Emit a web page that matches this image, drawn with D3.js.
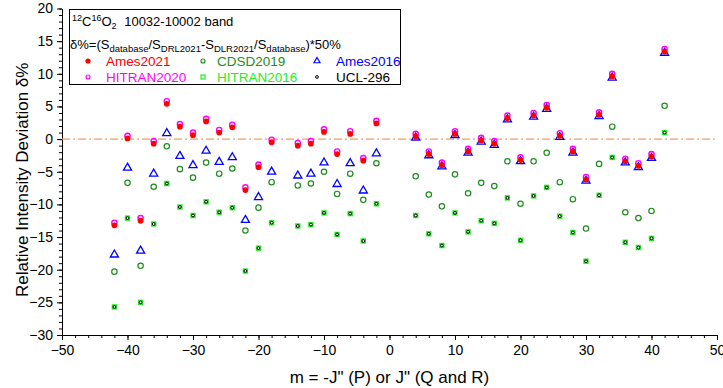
<!DOCTYPE html>
<html>
<head>
<meta charset="utf-8">
<script src="https://cdn.jsdelivr.net/npm/d3@7"></script>
<style>
  body { margin: 0; background: #fff; }
  svg, svg text { font-family: "Liberation Sans", Arial, sans-serif; }
</style>
</head>
<body>
<div id="chart"></div>
<script>
// m = -J" (P) or J" (Q and R)
const mValues = [-42, -40, -38, -36, -34, -32, -30, -28, -26, -24, -22, -20, -18, -14, -12, -10, -8, -6, -4, -2,
  4, 6, 8, 10, 12, 14, 16, 18, 20, 22, 24, 26, 28, 30, 32, 34, 36, 38, 40, 42];

const ames2021 = [-13.2, 0.1, -12.5, -0.7, 5.4, 1.9, 0.6, 2.7, 1.0, 1.8, -7.8, -4.3, -0.5, -1.0, -0.7, 1.1, -2.3, 0.8, -3.3, 2.4,
  0.4, -2.3, -4.0, 0.8, -1.9, -0.2, -0.7, 3.2, -3.2, 3.6, 4.8, 0.5, -1.9, -6.2, 3.7, 9.6, -3.4, -4.1, -2.7, 13.4];
const hitran2020 = [-12.8, 0.5, -12.1, -0.3, 5.8, 2.3, 1.0, 3.1, 1.4, 2.2, -7.4, -3.9, -0.1, -0.6, -0.3, 1.5, -1.9, 1.2, -2.9, 2.8,
  0.8, -1.9, -3.6, 1.2, -1.5, 0.2, -0.3, 3.6, -2.8, 4.0, 5.2, 0.9, -1.5, -5.8, 4.1, 10.0, -3.0, -3.7, -2.3, 13.8];
const ames2016 = [-17.7, -4.4, -17.1, -5.3, 0.9, -2.6, -4.0, -1.8, -3.5, -2.8, -12.4, -8.9, -5.0, -5.6, -5.3, -3.6, -6.9, -3.7, -7.9, -2.2,
  0.2, -2.5, -4.2, 0.6, -2.1, -0.4, -0.9, 3.0, -3.4, 3.4, 4.6, 0.3, -2.1, -6.4, 3.5, 9.4, -3.6, -4.3, -2.9, 13.2];
const cdsd2019 = [-20.3, -6.7, -19.4, -7.3, -1.1, -4.6, -5.9, -3.6, -5.3, -4.5, -14.0, -10.5, -6.6, -7.1, -6.8, -5.0, -8.4, -5.3, -9.3, -3.7,
  -5.7, -8.5, -10.3, -5.4, -8.3, -6.7, -7.2, -3.4, -9.9, -3.4, -2.1, -6.6, -9.2, -13.7, -3.8, 1.9, -11.2, -12.1, -11.0, 5.1];
const hitran2016 = [-25.7, -12.1, -25.0, -13.0, -6.8, -10.4, -11.7, -9.6, -11.2, -10.5, -20.2, -16.7, -12.8, -13.3, -13.1, -11.3, -14.6, -11.4, -15.6, -9.9,
  -11.7, -14.5, -16.3, -11.3, -14.2, -12.5, -12.9, -9.0, -15.5, -8.7, -7.4, -11.8, -14.3, -18.7, -8.6, -2.8, -15.8, -16.6, -15.2, 1.0];
const ucl296 = [-25.7, -12.1, -25.0, -13.0, -6.8, -10.4, -11.7, -9.6, -11.2, -10.5, -20.2, -16.7, -12.8, -13.3, -13.1, -11.3, -14.6, -11.4, -15.6, -9.9,
  -11.7, -14.5, -16.3, -11.3, -14.2, -12.5, -12.9, -9.0, -15.5, -8.7, -7.4, -11.8, -14.3, -18.7, -8.6, -2.8, -15.8, -16.6, -15.2, 1.0];

const xTicks = [-50, -40, -30, -20, -10, 0, 10, 20, 30, 40, 50];
const yTicks = [-30, -25, -20, -15, -10, -5, 0, 5, 10, 15, 20];

const width = 723;
const height = 388;
const font = '"Liberation Sans", Arial, sans-serif';

const svg = d3.select('#chart')
  .append('svg')
  .attr('width', width)
  .attr('height', height)
  .style('font-family', font);

const x = d3.scaleLinear().domain([-50, 50]).range([62, 717]);
const y = d3.scaleLinear().domain([-30, 20]).range([335, 8.5]);

// minor ticks
svg.append('g')
  .attr('transform', `translate(0,${y(-30)})`)
  .call(d3.axisBottom(x).tickValues(d3.range(-50, 51, 2)).tickSize(3).tickFormat(''))
  .call(g => g.select('.domain').remove());
svg.append('g')
  .attr('transform', `translate(${x(-50)},0)`)
  .call(d3.axisLeft(y).tickValues(d3.range(-30, 21, 1)).tickSize(3).tickFormat(''))
  .call(g => g.select('.domain').remove());

// major axes
svg.append('g')
  .attr('transform', `translate(0,${y(-30)})`)
  .call(d3.axisBottom(x).tickValues(xTicks).tickSize(5).tickSizeOuter(0).tickPadding(5));
svg.append('g')
  .attr('transform', `translate(${x(-50)},0)`)
  .call(d3.axisLeft(y).tickValues(yTicks).tickSize(5).tickSizeOuter(0).tickPadding(4));

svg.selectAll('.tick text')
  .style('font-size', '14px')
  .style('font-family', font)
  .attr('fill', '#000');
svg.selectAll('.domain, .tick line').attr('stroke', '#000');

// zero line
svg.append('line')
  .attr('x1', x(-50)).attr('x2', x(50))
  .attr('y1', y(0)).attr('y2', y(0))
  .attr('stroke', '#E8A060')
  .attr('stroke-width', 1.2)
  .attr('stroke-dasharray', '8,3,2,3');

// axis titles
svg.append('text')
  .attr('x', (x(-50) + x(50)) / 2)
  .attr('y', 383)
  .attr('text-anchor', 'middle')
  .style('font-size', '17px')
  .text('m = -J" (P) or J" (Q and R)');

svg.append('text')
  .attr('transform', `translate(28,${y(-5) + 8}) rotate(-90)`)
  .attr('text-anchor', 'middle')
  .style('font-size', '17px')
  .text('Relative Intensity Deviation δ%');

const pts = (vals) => mValues.map((m, i) => ({ m, v: vals[i] }));

const tri = d3.symbol().type(d3.symbolTriangle).size(28);

// CDSD2019
svg.append('g').selectAll('circle')
  .data(pts(cdsd2019)).enter()
  .append('circle')
  .attr('cx', d => x(d.m)).attr('cy', d => y(d.v)).attr('r', 2.7)
  .attr('fill', 'none').attr('stroke', '#1E8C1E').attr('stroke-width', 1.2);

// HITRAN2016
svg.append('g').selectAll('rect')
  .data(pts(hitran2016)).enter()
  .append('rect')
  .attr('x', d => x(d.m) - 2.7).attr('y', d => y(d.v) - 2.7)
  .attr('width', 5.4).attr('height', 5.4)
  .attr('fill', '#22EE22');

// UCL-296
svg.append('g').selectAll('circle')
  .data(pts(ucl296)).enter()
  .append('circle')
  .attr('cx', d => x(d.m)).attr('cy', d => y(d.v)).attr('r', 1.4)
  .attr('fill', '#fff').attr('stroke', '#000').attr('stroke-width', 1);

// Ames2016
svg.append('g').selectAll('path')
  .data(pts(ames2016)).enter()
  .append('path')
  .attr('d', tri)
  .attr('transform', d => `translate(${x(d.m)},${y(d.v)})`)
  .attr('fill', 'none').attr('stroke', '#0000FF').attr('stroke-width', 1.3);

// HITRAN2020
svg.append('g').selectAll('circle')
  .data(pts(hitran2020)).enter()
  .append('circle')
  .attr('cx', d => x(d.m)).attr('cy', d => y(d.v)).attr('r', 2.6)
  .attr('fill', 'none').attr('stroke', '#FF00FF').attr('stroke-width', 1.4);

// Ames2021
svg.append('g').selectAll('circle')
  .data(pts(ames2021)).enter()
  .append('circle')
  .attr('cx', d => x(d.m)).attr('cy', d => y(d.v)).attr('r', 2.9)
  .attr('fill', '#FF0000');

// legend
const legend = svg.append('g');
legend.append('rect')
  .attr('x', 69.5).attr('y', 9.5)
  .attr('width', 331).attr('height', 75)
  .attr('fill', '#fff').attr('stroke', '#000').attr('stroke-width', 1);

const t1 = legend.append('text').attr('x', 72).attr('y', 26).style('font-size', '13px');
t1.append('tspan').attr('dy', -5).style('font-size', '9px').text('12');
t1.append('tspan').attr('dy', 5).text('C');
t1.append('tspan').attr('dy', -5).style('font-size', '9px').text('16');
t1.append('tspan').attr('dy', 5).text('O');
t1.append('tspan').attr('dy', 3).style('font-size', '9px').text('2');
t1.append('tspan').attr('dy', -3).attr('dx', 4).text(' 10032-10002 band');

const t2 = legend.append('text').attr('x', 70).attr('y', 49).style('font-size', '13px');
const sub = (s) => { t2.append('tspan').attr('dy', 3).style('font-size', '9.5px').text(s); };
const norm = (s) => { t2.append('tspan').attr('dy', -3).text(s); };
t2.append('tspan').text('δ%=(S');
sub('database'); norm('/S'); sub('DRL2021'); norm('-S'); sub('DLR2021'); norm('/S'); sub('database'); norm(')*50%');

const legendItems = [
  { label: 'Ames2021', color: '#FF0000', col: 0, row: 0, kind: 'dot' },
  { label: 'CDSD2019', color: '#1E8C1E', col: 1, row: 0, kind: 'ring' },
  { label: 'Ames2016', color: '#0000FF', col: 2, row: 0, kind: 'tri' },
  { label: 'HITRAN2020', color: '#FF00FF', col: 0, row: 1, kind: 'ring' },
  { label: 'HITRAN2016', color: '#22EE22', col: 1, row: 1, kind: 'square' },
  { label: 'UCL-296', color: '#000000', col: 2, row: 1, kind: 'small' }
];
const colX = [88, 203, 317];
const textX = [106, 217, 336];
const rowY = [61, 77];

legendItems.forEach(it => {
  const cx = colX[it.col], cy = rowY[it.row];
  if (it.kind === 'dot') {
    legend.append('circle').attr('cx', cx).attr('cy', cy).attr('r', 2.6).attr('fill', it.color);
  } else if (it.kind === 'ring') {
    legend.append('circle').attr('cx', cx).attr('cy', cy).attr('r', 2).attr('fill', 'none')
      .attr('stroke', it.color).attr('stroke-width', 1.2);
  } else if (it.kind === 'tri') {
    legend.append('path').attr('d', d3.symbol().type(d3.symbolTriangle).size(16))
      .attr('transform', `translate(${cx},${cy})`)
      .attr('fill', 'none').attr('stroke', it.color).attr('stroke-width', 1.2);
  } else if (it.kind === 'square') {
    legend.append('rect').attr('x', cx - 2).attr('y', cy - 2).attr('width', 4).attr('height', 4)
      .attr('fill', 'none').attr('stroke', it.color).attr('stroke-width', 1.2);
  } else {
    legend.append('circle').attr('cx', cx).attr('cy', cy).attr('r', 1.4).attr('fill', 'none')
      .attr('stroke', it.color).attr('stroke-width', 1);
  }
  legend.append('text')
    .attr('x', textX[it.col]).attr('y', cy + 5)
    .style('font-size', '13.5px')
    .attr('fill', it.color)
    .text(it.label);
});
</script>
</body>
</html>
